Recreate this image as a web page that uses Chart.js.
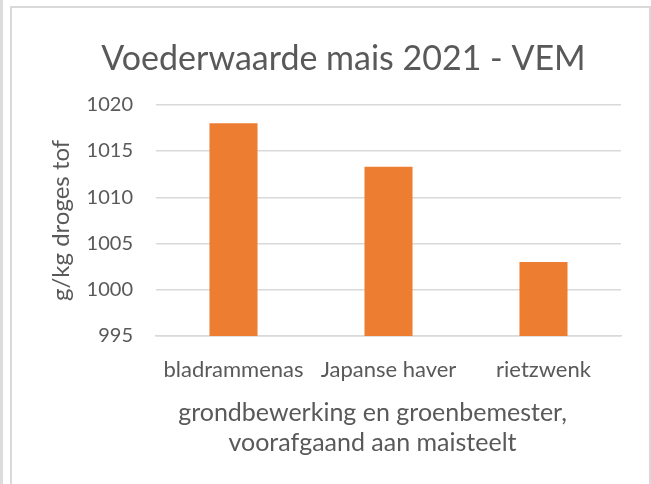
<!DOCTYPE html>
<html>
<head>
<meta charset="utf-8">
<script src="https://cdn.jsdelivr.net/npm/chart.js@4"></script>
<style>
  body { margin: 0; background: #fff; width: 651px; height: 484px; overflow: hidden; position: relative; }
  .edge { position: absolute; left: 0; top: 0; width: 3px; height: 484px; background: #dcdcdc; }
  .frame { position: absolute; left: 10px; top: 6px; width: 637px; height: 490px; border: 2px solid #d9d9d9; border-bottom: none; }
  .frame canvas { display: block; }
</style>
</head>
<body>
<div class="edge"></div>
<div class="frame">
  <canvas id="vemChart" width="637" height="478"></canvas>
</div>
<script>
// categories and VEM values
const categories = ['bladrammenas', 'Japanse haver', 'rietzwenk'];
const vemValues = [1018.0, 1013.3, 1003.0];
const yTicks = [995, 1000, 1005, 1010, 1015, 1020];

const textGrey = '#595959';
const fontFamily = 'Lato, "Open Sans", sans-serif';

const ctx = document.getElementById('vemChart').getContext('2d');
const vemChart = new Chart(ctx, {
  type: 'bar',
  data: {
    labels: categories,
    datasets: [{
      label: 'VEM',
      data: vemValues,
      backgroundColor: '#ED7D31',
      borderWidth: 0,
      barPercentage: 0.31,
      categoryPercentage: 1.0
    }]
  },
  options: {
    responsive: false,
    animation: false,
    layout: {
      padding: { left: 33, right: 7, top: 0, bottom: 0 }
    },
    plugins: {
      legend: { display: false },
      tooltip: { enabled: false },
      title: {
        display: true,
        text: 'Voederwaarde mais 2021 - VEM',
        color: textGrey,
        font: { family: fontFamily, size: 34, weight: 'normal' },
        padding: { top: 31, bottom: 25 }
      }
    },
    scales: {
      y: {
        min: yTicks[0],
        max: yTicks[yTicks.length - 1],
        afterBuildTicks: axis => { axis.ticks = yTicks.map(v => ({ value: v })); },
        afterFit: axis => { axis.width = 111; },
        grid: { color: '#d9d9d9', lineWidth: 1.5, drawTicks: false },
        border: { display: false },
        ticks: {
          color: textGrey,
          padding: 23,
          font: { family: fontFamily, size: 20 },
          callback: v => String(v)
        },
        title: {
          display: true,
          text: 'g/kg droges tof',
          color: textGrey,
          font: { family: fontFamily, size: 24 },
          padding: { top: 2, bottom: 4 }
        }
      },
      // empty axis on the right, only to keep space like the original
      yRight: {
        position: 'right',
        min: 0,
        max: 1,
        grid: { display: false },
        border: { display: false },
        ticks: { display: false },
        afterFit: axis => { axis.width = 21; }
      },
      x: {
        afterFit: axis => { axis.height = 150; },
        grid: { display: false },
        border: { color: '#d9d9d9', width: 1.5 },
        ticks: {
          color: textGrey,
          padding: 13,
          font: { family: fontFamily, size: 22 }
        },
        title: {
          display: true,
          // trailing spaces nudge the centred lines left, as in the original
          text: ['grondbewerking en groenbemester,     ', 'voorafgaand aan maisteelt     '],
          color: textGrey,
          font: { family: fontFamily, size: 25, lineHeight: 1.2 },
          padding: { top: 0, bottom: 28 }
        }
      }
    }
  }
});
</script>
</body>
</html>
